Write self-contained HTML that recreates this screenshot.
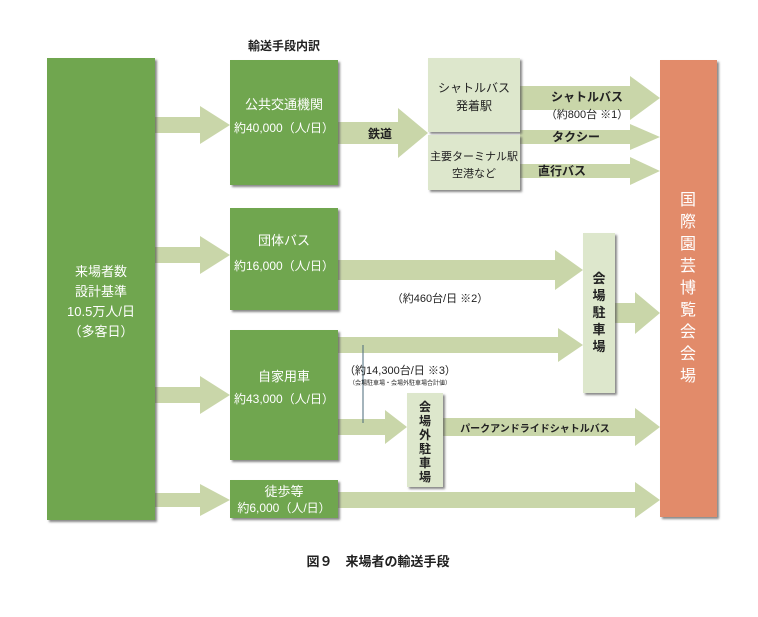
<!DOCTYPE html>
<html><head><meta charset="utf-8"><style>
body{margin:0;background:#fff;}
svg text{font-family:"Liberation Sans","Noto Sans CJK JP",sans-serif;}
</style></head><body>
<svg width="758" height="612" viewBox="0 0 758 612" xmlns="http://www.w3.org/2000/svg">
<defs>
<filter id="sh" x="-10%" y="-10%" width="130%" height="130%"><feDropShadow dx="2" dy="2" stdDeviation="1" flood-color="#555" flood-opacity="0.7"/></filter>
</defs>
<g fill="#c9d6a9">
<polygon points="155,117 200,117 200,106 230,125 200,144 200,133 155,133"/>
<polygon points="155,247 200,247 200,236 230,255 200,274 200,263 155,263"/>
<polygon points="155,387 200,387 200,376 230,395 200,414 200,403 155,403"/>
<polygon points="155,493 200,493 200,484 230,500 200,516 200,507 155,507"/>
<polygon points="338,122 398,122 398,108 428,133 398,158 398,144 338,144"/>
<polygon points="520,86 630,86 630,76 660,98 630,120 630,110 520,110"/>
<polygon points="520,130 630,130 630,124 660,137 630,150 630,144 520,144"/>
<polygon points="520,164 630,164 630,157 660,171 630,185 630,178 520,178"/>
<polygon points="338,260 555,260 555,250 583,270 555,290 555,280 338,280"/>
<polygon points="615,303 635,303 635,292 660,313 635,334 635,323 615,323"/>
<polygon points="338,337 558,337 558,328 583,345 558,362 558,353 338,353"/>
<polygon points="338,419 385,419 385,410 407,427 385,444 385,435 338,435"/>
<polygon points="443,418 635,418 635,408 660,427 635,446 635,436 443,436"/>
<polygon points="338,492 635,492 635,482 660,500 635,518 635,508 338,508"/>
</g>
<line x1="363" y1="345" x2="363" y2="423" stroke="#4a6a7a" stroke-width="1"/>
<g filter="url(#sh)">
<rect x="47" y="58" width="108" height="462" fill="#6fa64f"/>
<rect x="230" y="60" width="108" height="125" fill="#6fa64f"/>
<rect x="230" y="208" width="108" height="102" fill="#6fa64f"/>
<rect x="230" y="330" width="108" height="130" fill="#6fa64f"/>
<rect x="230" y="480" width="108" height="38" fill="#6fa64f"/>
<rect x="428" y="58" width="92" height="74" fill="#dde7cc"/>
<rect x="428" y="135" width="92" height="55" fill="#dde7cc"/>
<rect x="583" y="233" width="32" height="160" fill="#dde7cc"/>
<rect x="407" y="393" width="36" height="94" fill="#dde7cc"/>
<rect x="660" y="60" width="57" height="457" fill="#e28b6b"/>
</g>
<g fill="#fff" font-size="13" text-anchor="middle">
<text x="101" y="276">来場者数</text>
<text x="101" y="296">設計基準</text>
<text x="101" y="316">10.5万人/日</text>
<text x="101" y="336">（多客日）</text>
<text x="284" y="109">公共交通機関</text>
<text x="284" y="132" font-size="12">約40,000（人/日）</text>
<text x="284" y="245">団体バス</text>
<text x="284" y="270" font-size="12">約16,000（人/日）</text>
<text x="284" y="381">自家用車</text>
<text x="284" y="403" font-size="12">約43,000（人/日）</text>
<text x="284" y="496">徒歩等</text>
<text x="284" y="512" font-size="12">約6,000（人/日）</text>
</g>
<g fill="#222" font-size="12" text-anchor="middle">
<text x="284" y="50" font-weight="bold">輸送手段内訳</text>
<text x="380" y="138" font-weight="bold">鉄道</text>
<text x="474" y="92">シャトルバス</text>
<text x="474" y="110">発着駅</text>
<text x="474" y="160" font-size="11">主要ターミナル駅</text>
<text x="474" y="177" font-size="11">空港など</text>
<text x="587" y="101" font-weight="bold">シャトルバス</text>
<text x="587" y="118" font-size="11">（約800台 ※1）</text>
<text x="576" y="141" font-weight="bold">タクシー</text>
<text x="562" y="175" font-weight="bold">直行バス</text>
<text x="440" y="302" font-size="11">（約460台/日 ※2）</text>
<text x="400" y="374" font-size="11">（約14,300台/日 ※3）</text>
<text x="400" y="385" font-size="6">（会場駐車場・会場外駐車場合計値）</text>
<text x="535" y="432" font-size="10" font-weight="bold">パークアンドライドシャトルバス</text>
<text x="378" y="566" font-size="13" font-weight="bold">図９　来場者の輸送手段</text>
</g>
<g fill="#222" font-size="13" text-anchor="middle" font-weight="bold">
<text x="599" y="283">会</text><text x="599" y="300">場</text><text x="599" y="317">駐</text><text x="599" y="334">車</text><text x="599" y="351">場</text>
</g>
<g fill="#222" font-size="12" text-anchor="middle" font-weight="bold">
<text x="425" y="411">会</text><text x="425" y="425">場</text><text x="425" y="439">外</text><text x="425" y="453">駐</text><text x="425" y="467">車</text><text x="425" y="481">場</text>
</g>
<g fill="#fff" font-size="16" text-anchor="middle">
<text x="688" y="205">国</text><text x="688" y="227">際</text><text x="688" y="249">園</text><text x="688" y="271">芸</text><text x="688" y="293">博</text><text x="688" y="315">覧</text><text x="688" y="337">会</text><text x="688" y="359">会</text><text x="688" y="381">場</text>
</g>
</svg>
</body></html>
